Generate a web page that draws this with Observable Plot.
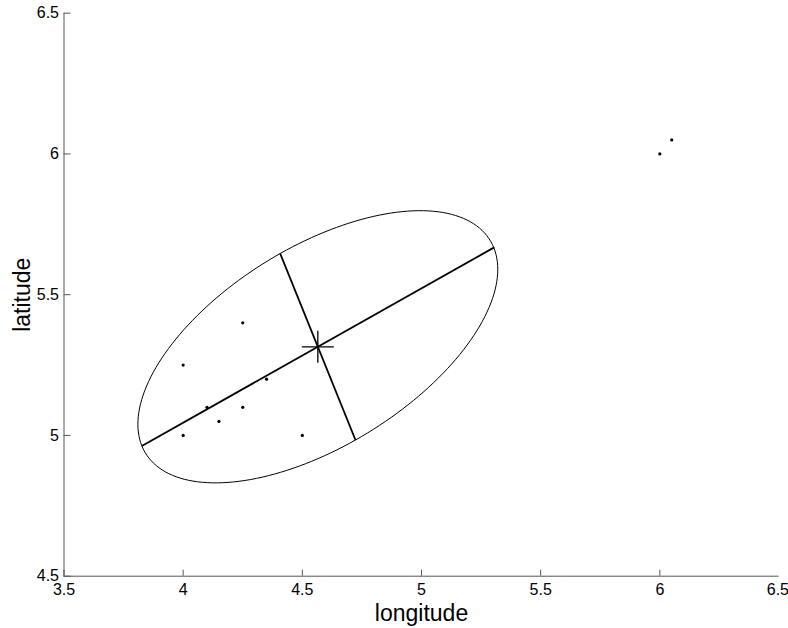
<!DOCTYPE html>
<html>
<head>
<meta charset="utf-8">
<script src="https://cdn.jsdelivr.net/npm/d3@7"></script>
<script src="https://cdn.jsdelivr.net/npm/@observablehq/plot@0.6"></script>
<style>
  html, body { margin: 0; padding: 0; background: #fff; }
  #chart { width: 788px; height: 628px; }
  svg { font-family: "Liberation Sans", Arial, sans-serif; }
</style>
</head>
<body>
<div id="chart"></div>
<script>
// Observed locations
const longitude = [4, 4, 4.1, 4.15, 4.25, 4.25, 4.35, 4.5, 6, 6.05];
const latitude  = [5, 5.25, 5.1, 5.05, 5.4, 5.1, 5.2, 5, 6, 6.05];

// Axis ticks
const xTicks = [3.5, 4, 4.5, 5, 5.5, 6, 6.5];
const yTicks = [4.5, 5, 5.5, 6, 6.5];
const xTickLabels = ["3.5", "4", "4.5", "5", "5.5", "6", "6.5"];
const yTickLabels = ["4.5", "5", "5.5", "6", "6.5"];

// Dispersion ellipse: semi-axes (degrees of lon/lat) and orientation
const semiMajor = 0.818;
const semiMinor = 0.367;
const orientationDeg = 25.5;

const points = longitude.map((x, i) => ({x, y: latitude[i]}));
const cx = d3.mean(longitude);
const cy = d3.mean(latitude);

const th = orientationDeg * Math.PI / 180;
const ux = Math.cos(th), uy = Math.sin(th);   // major direction
const vx = -Math.sin(th), vy = Math.cos(th);  // minor direction

const ellipse = d3.range(0, 361, 2).map(deg => {
  const t = deg * Math.PI / 180;
  return {
    x: cx + semiMajor * ux * Math.cos(t) + semiMinor * vx * Math.sin(t),
    y: cy + semiMajor * uy * Math.cos(t) + semiMinor * vy * Math.sin(t)
  };
});

const axesSegments = [
  {x1: cx - semiMajor * ux, y1: cy - semiMajor * uy, x2: cx + semiMajor * ux, y2: cy + semiMajor * uy},
  {x1: cx - semiMinor * vx, y1: cy - semiMinor * vy, x2: cx + semiMinor * vx, y2: cy + semiMinor * vy}
];

// plus-shaped marker for the centroid
const crossSymbol = {
  draw(context, size) {
    const r = Math.sqrt(size / Math.PI);
    context.moveTo(-r, 0); context.lineTo(r, 0);
    context.moveTo(0, -r); context.lineTo(0, r);
  }
};

const lastX = xTicks.length - 1;
const xAxisStyle = {
  tickFormat: d => xTickLabels[xTicks.indexOf(d)],
  tickSize: -6,
  tickPadding: 13,
  stroke: "#555",
  fontSize: 16,
  fill: "#000"
};

const chart = Plot.plot({
  width: 788,
  height: 628,
  marginLeft: 63.5,
  marginRight: 9.5,
  marginTop: 12.7,
  marginBottom: 52.3,
  style: {fontFamily: "Liberation Sans, Arial, sans-serif", fontSize: "16px", color: "#000", background: "#fff"},
  x: {domain: [3.5, 6.5], label: null},
  y: {domain: [4.5, 6.5], label: null},
  marks: [
    Plot.ruleX([3.5], {stroke: "#555", strokeWidth: 1}),
    Plot.ruleY([4.5], {stroke: "#555", strokeWidth: 1}),
    Plot.axisX({...xAxisStyle, ticks: xTicks.slice(0, lastX)}),
    // rightmost label nudged inward so it stays inside the page
    Plot.axisX({...xAxisStyle, ticks: [xTicks[lastX]], textAnchor: "end", dx: 10}),
    Plot.axisY({
      ticks: yTicks,
      tickFormat: (d, i) => yTickLabels[i],
      tickSize: -7,
      tickPadding: 12,
      stroke: "#555",
      fontSize: 16,
      fill: "#000"
    }),
    Plot.line(ellipse, {x: "x", y: "y", curve: "linear-closed", stroke: "#000", strokeWidth: 1}),
    Plot.link(axesSegments, {x1: "x1", y1: "y1", x2: "x2", y2: "y2", stroke: "#000", strokeWidth: 1.8}),
    Plot.dot([{x: cx, y: cy}], {x: "x", y: "y", symbol: crossSymbol, r: 16, stroke: "#000", strokeWidth: 1.3, fill: "none"}),
    Plot.dot(points, {x: "x", y: "y", r: 1.6, fill: "#000", stroke: "none"}),
    Plot.text(["longitude"], {frameAnchor: "bottom", lineAnchor: "middle", dy: 37, fontSize: 23, fill: "#000"}),
    Plot.text(["latitude"], {frameAnchor: "left", textAnchor: "middle", lineAnchor: "middle", dx: -41, rotate: -90, fontSize: 23, fill: "#000"})
  ]
});

document.getElementById("chart").appendChild(chart);
</script>
</body>
</html>
